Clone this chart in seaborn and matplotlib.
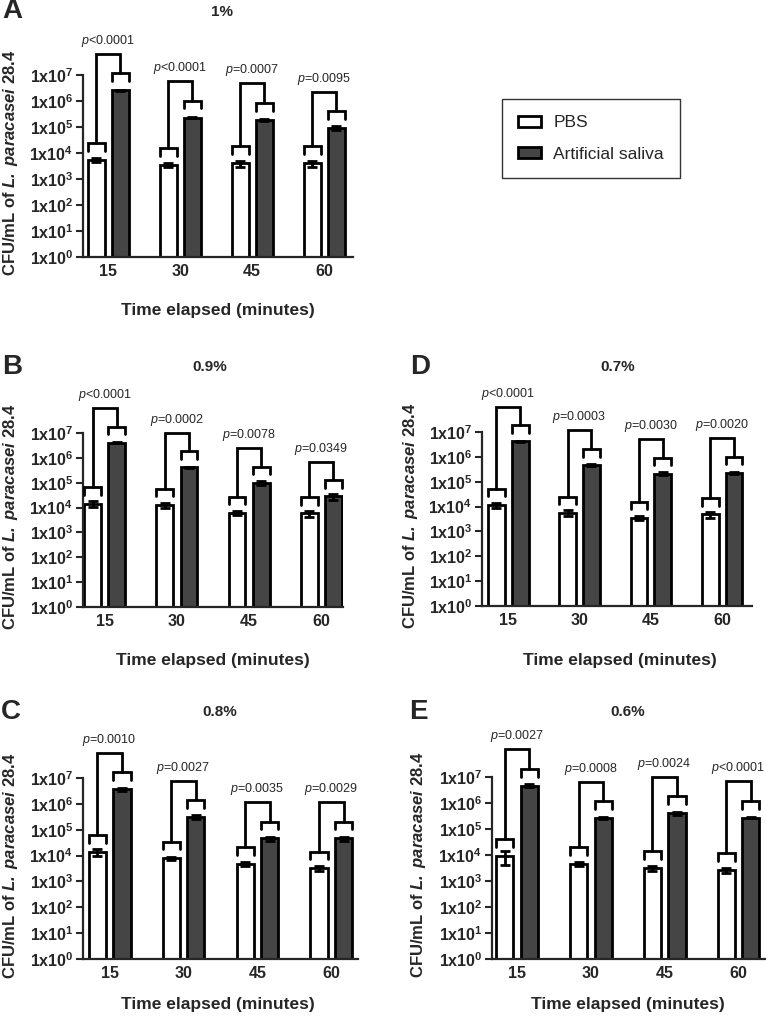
import numpy as np
import pandas as pd
import matplotlib
matplotlib.use("Agg")
import matplotlib.pyplot as plt
from matplotlib.patches import Patch
from matplotlib.ticker import NullLocator
import seaborn as sns

# -------------------------------
# Data
# -------------------------------
times = ["15", "30", "45", "60"]
groups = ["PBS", "Artificial saliva"]

# A - 1%
pbs_1 = [5.4e3, 3.5e3, 4.0e3, 4.0e3]
pbs_1_err = [1.0e3, 6.0e2, 1.0e3, 1.0e3]
art_1 = [2.6e6, 2.3e5, 1.9e5, 9.0e4]
art_1_err = [1.0e5, 1.5e4, 1.5e4, 1.5e4]
p_1 = ["<0.0001", "<0.0001", "=0.0007", "=0.0095"]

# B - 0.9%
pbs_09 = [1.45e4, 1.25e4, 6.1e3, 5.8e3]
pbs_09_err = [4.0e3, 2.5e3, 1.2e3, 1.5e3]
art_09 = [4.0e6, 4.1e5, 9.8e4, 2.8e4]
art_09_err = [2.0e5, 3.0e4, 1.5e4, 7.0e3]
p_09 = ["<0.0001", "=0.0002", "=0.0078", "=0.0349"]

# C - 0.8%
pbs_08 = [1.4e4, 7.8e3, 4.9e3, 3.2e3]
pbs_08_err = [4.0e3, 1.2e3, 8.0e2, 7.0e2]
art_08 = [3.7e6, 3.1e5, 4.6e4, 4.6e4]
art_08_err = [5.0e5, 5.0e4, 8.0e3, 8.0e3]
p_08 = ["=0.0010", "=0.0027", "=0.0035", "=0.0029"]

# D - 0.7%
pbs_07 = [1.15e4, 5.6e3, 3.5e3, 4.8e3]
pbs_07_err = [2.5e3, 1.5e3, 6.0e2, 1.3e3]
art_07 = [4.2e6, 4.6e5, 2.1e5, 2.25e5]
art_07_err = [1.5e5, 4.0e4, 2.5e4, 2.5e4]
p_07 = ["<0.0001", "=0.0003", "=0.0030", "=0.0020"]

# E - 0.6%
pbs_06 = [9.1e3, 4.5e3, 3.1e3, 2.6e3]
pbs_06_err = [5.0e3, 7.0e2, 6.0e2, 6.0e2]
art_06 = [4.6e6, 2.6e5, 4.0e5, 2.7e5]
art_06_err = [6.0e5, 2.0e4, 4.0e4, 1.5e4]
p_06 = ["=0.0027", "=0.0008", "=0.0024", "<0.0001"]

exponents = list(range(8))

# -------------------------------
# Style
# -------------------------------
sns.set_style("ticks")
plt.rcParams["font.family"] = ["Liberation Sans", "DejaVu Sans"]
plt.rcParams["mathtext.fontset"] = "custom"
plt.rcParams["mathtext.default"] = "regular"
plt.rcParams["mathtext.rm"] = "Liberation Sans"
plt.rcParams["mathtext.it"] = "Liberation Sans:italic"
plt.rcParams["mathtext.bf"] = "Liberation Sans:bold"
plt.rcParams["mathtext.bfit"] = "Liberation Sans:italic:bold"

WHITE = "#ffffff"
DARK = "#454545"
W, H = 766, 1024

fig = plt.figure(figsize=(W / 100, H / 100), dpi=100)


def px_axes(l, t, r, b):
    return fig.add_axes([l / W, 1 - b / H, (r - l) / W, (b - t) / H])


def ftext(x, y, s, **kw):
    fig.text(x / W, 1 - y / H, s, ha="center", va="center", **kw)


def draw_panel(ax, pbs, pbs_err, art, art_err, pvals, xlim):
    df = pd.DataFrame({
        "time": times * 2,
        "group": [groups[0]] * len(times) + [groups[1]] * len(times),
        "cfu": pbs + art,
    })
    sns.barplot(data=df, x="time", y="cfu", hue="group", order=times, hue_order=groups,
                palette=[WHITE, DARK], saturation=1, edgecolor="black", linewidth=2,
                width=0.667, gap=0.3, errorbar=None, legend=False, ax=ax)
    ax.set_yscale("log")
    ax.set_ylim(1, 1e7)
    ax.set_xlim(*xlim)
    ax.yaxis.set_minor_locator(NullLocator())
    ax.set_yticks([10.0 ** e for e in exponents])
    ax.set_yticklabels(["1x10$^{%d}$" % e for e in exponents], fontweight="bold")
    ax.set_xticks(range(len(times)))
    ax.set_xticklabels(times, fontweight="bold")
    ax.tick_params(axis="y", direction="out", length=5, width=1.5, labelsize=11.5, pad=2)
    ax.tick_params(axis="x", length=0, labelsize=11.5, pad=5)
    ax.set_xlabel("")
    ax.set_ylabel("")
    sns.despine(ax=ax)
    for sp in ["left", "bottom"]:
        ax.spines[sp].set_linewidth(1.6)

    pbs_bars, art_bars = ax.containers[0], ax.containers[1]

    # error bars (SEM)
    for bars, errs in [(pbs_bars, pbs_err), (art_bars, art_err)]:
        for bar, e in zip(bars, errs):
            xc = bar.get_x() + bar.get_width() / 2
            ax.errorbar(xc, bar.get_height(), yerr=e, fmt="none", ecolor="black",
                        elinewidth=2, capsize=3.5, capthick=2, zorder=4)

    # significance brackets
    kw = dict(color="black", lw=2, clip_on=False, solid_joinstyle="miter", zorder=5)
    for b1, b2, p in zip(pbs_bars, art_bars, pvals):
        y1 = np.log10(b1.get_height()) + 0.65
        y2 = np.log10(b2.get_height()) + 0.65
        ytop = max(y1, y2) + 0.75
        for b, y in [(b1, y1), (b2, y2)]:
            x0, x1 = b.get_x(), b.get_x() + b.get_width()
            ax.plot([x0, x0, x1, x1], 10 ** np.array([y - 0.3, y, y, y - 0.3]), **kw)
        c1 = b1.get_x() + b1.get_width() / 2
        c2 = b2.get_x() + b2.get_width() / 2
        ax.plot([c1, c1, c2, c2], 10 ** np.array([y1, ytop, ytop, y2]), **kw)
        ax.text((c1 + c2) / 2, 10 ** (ytop + 0.2), r"$\mathit{p}$" + p,
                ha="center", va="bottom", fontsize=9, clip_on=False)


# -------------------------------
# Panels
# -------------------------------
ylab = r"CFU/mL of $\mathbfit{L.\ paracasei}$ 28.4"
xlab = "Time elapsed (minutes)"

panels = [
    # letter, title, data, axes rect (px), xlim, letter pos, title pos, xlabel pos, ylabel x
    ("A", "1%", (pbs_1, pbs_1_err, art_1, art_1_err, p_1), (83, 75, 353, 257), (-0.35, 3.4),
     (12, 11), (222, 12), (218, 310), 11),
    ("B", "0.9%", (pbs_09, pbs_09_err, art_09, art_09_err, p_09), (83, 433, 343, 607), (-0.3, 3.3),
     (12, 367), (210, 367), (213, 660), 11),
    ("D", "0.7%", (pbs_07, pbs_07_err, art_07, art_07_err, p_07), (482, 432, 752, 606), (-0.37, 3.42),
     (420, 367), (618, 367), (620, 660), 411),
    ("C", "0.8%", (pbs_08, pbs_08_err, art_08, art_08_err, p_08), (83, 778, 358, 959), (-0.36, 3.36),
     (11, 712), (220, 712), (218, 1005), 11),
    ("E", "0.6%", (pbs_06, pbs_06_err, art_06, art_06_err, p_06), (492, 777, 768, 959), (-0.34, 3.4),
     (418, 712), (628, 712), (628, 1005), 419),
]

for letter, title, data, rect, xlim, lpos, tpos, xpos, ylx in panels:
    ax = px_axes(*rect)
    draw_panel(ax, *data, xlim)
    ftext(*lpos, letter, fontsize=20, fontweight="bold")
    ftext(*tpos, title, fontsize=11, fontweight="bold")
    ftext(*xpos, xlab, fontsize=12.5, fontweight="bold")
    ftext(ylx, (rect[1] + rect[3]) / 2 - 3, ylab, fontsize=12, fontweight="bold", rotation=90)

# legend
handles = [Patch(facecolor=WHITE, edgecolor="black", linewidth=2, label=groups[0]),
           Patch(facecolor=DARK, edgecolor="black", linewidth=2, label=groups[1])]
leg = fig.legend(handles=handles, loc="upper left", bbox_to_anchor=(502 / W, 1 - 99 / H),
                 fontsize=12.5, frameon=True, fancybox=False, handlelength=1.3, handleheight=0.6,
                 handletextpad=0.7, labelspacing=0.95, borderpad=0.95, borderaxespad=0)
leg.get_frame().set_edgecolor("black")
leg.get_frame().set_linewidth(1.0)

fig.savefig("out.png", dpi=100)
